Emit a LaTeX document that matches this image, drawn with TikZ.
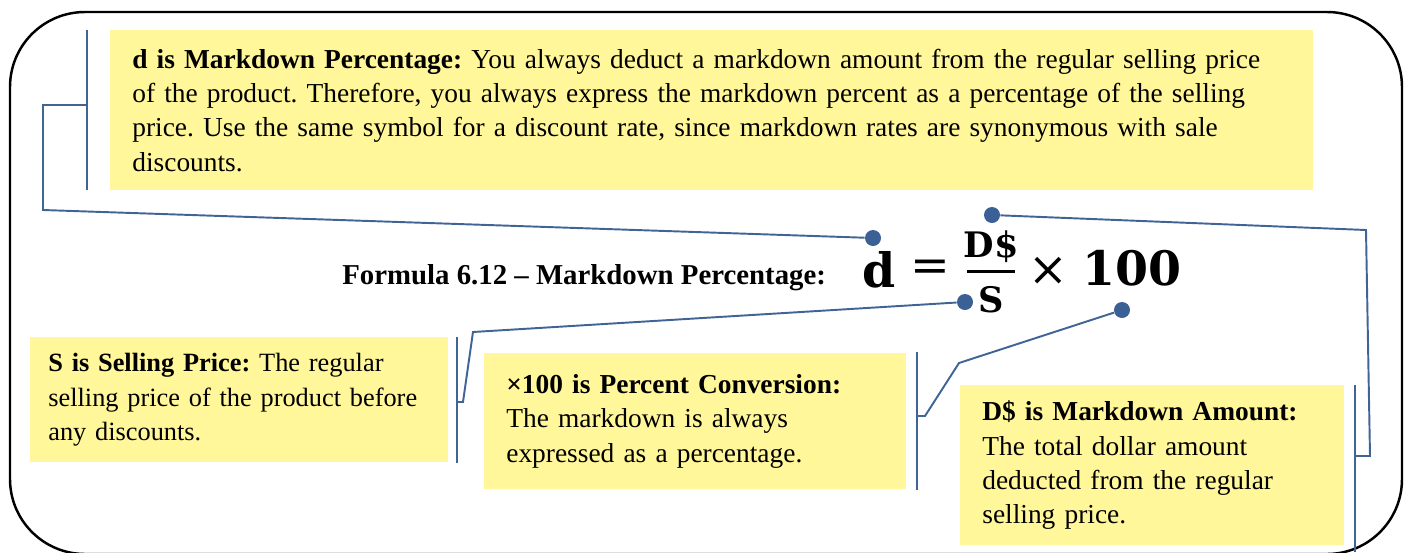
\documentclass[tikz,border=0pt]{standalone}
\usepackage{fontspec}
\setmainfont{Liberation Serif}
\newfontfamily\formfont{DejaVu Serif}
\usepackage{tikz}
\usetikzlibrary{positioning}
\definecolor{notefill}{HTML}{FFF799}
\definecolor{linkblue}{HTML}{406496}
\definecolor{dotblue}{HTML}{3A6095}
\frenchspacing
\tikzset{
  frame/.style={draw=black,line width=1.4pt,rounded corners=1.5cm},
  note/.style={fill=notefill,anchor=north west,align=left,inner xsep=0.44cm,inner ysep=0pt,
    font=\fontsize{15.6}{19.5}\selectfont},
  link/.style={linkblue,line width=1.1pt},
  dot/.style={circle,fill=dotblue,inner sep=0pt,minimum size=0.32cm},
  formpart/.style={inner sep=0pt,font=\formfont\bfseries\fontsize{27}{30}\selectfont},
  formsign/.style={inner sep=0pt,font=\formfont\fontsize{27}{30}\selectfont},
  fracpart/.style={inner sep=0pt,anchor=base,font=\formfont\bfseries\fontsize{20}{22}\selectfont}
}
\begin{document}
\begin{tikzpicture}[x=0.02cm,y=-0.02cm]
  \useasboundingbox (0,0) rectangle (1411,552);
  \clip (0,0) rectangle (1411,552);
  % outer frame
  \draw[frame] (10,12) rectangle (1402,554);
  % notes
  \node[note,text width=23.18cm,minimum height=3.2cm] (dnote) at (110,30)
    {\textbf{d is Markdown Percentage:} You always deduct a markdown amount from the regular selling price\\
     of the product. Therefore, you always express the markdown percent as a percentage of the selling\\
     price. Use the same symbol for a discount rate, since markdown rates are synonymous with sale\\
     discounts.};
  \node[note,inner xsep=0.36cm,text width=7.64cm,minimum height=2.5cm,
        font=\fontsize{15}{19.5}\selectfont] (snote) at (30,337)
    {\textbf{S is Selling Price:} The regular\\ selling price of the product before\\ any discounts.};
  \node[note,text width=7.56cm,minimum height=2.72cm] (hnote) at (484,353)
    {\textbf{×100 is Percent Conversion:}\\ The markdown is always\\ expressed as a percentage.};
  \node[note,text width=6.80cm,minimum height=3.2cm] (Dnote) at (960,385)
    {\textbf{D\$ is Markdown Amount:}\\ The total dollar amount\\ deducted from the regular\\ selling price.};
  % formula
  \node[anchor=base west,inner sep=0pt,font=\bfseries\fontsize{16.4}{18}\selectfont] (ftitle) at (342,284)
    {Formula 6.12 – Markdown Percentage:};
  \node[formpart,anchor=base west] (fd) at (862,287) {d};
  \node[formsign] (feq) at (930,271) {=};
  \node[fracpart] (fnum) at (991,257) {D\$};
  \node[fracpart] (fden) at (991,312) {S};
  \draw[line width=1.7pt] (967,271) -- (1015,271);
  \node[formsign] (ftimes) at (1048,271.5) {×};
  \node[formpart,anchor=base west] (fhund) at (1082,285) {100};
  % dots
  \node[dot] (ddot) at (873,238) {};
  \node[dot] (Ddot) at (992,215) {};
  \node[dot] (sdot) at (965,302) {};
  \node[dot] (hdot) at (1122,310) {};
  % d connector
  \coordinate (dtop) at (87,30);
  \coordinate (dbot) at (87,190);
  \coordinate (dmid) at (87,105);
  \draw[link] (dtop) -- (dbot);
  \draw[link] (dmid) -- (43,105) -- (43,210) -- (ddot);
  % D$ connector
  \coordinate (Dtop) at (1355,385);
  \coordinate (Dbot) at (1355,552);
  \coordinate (Dmid) at (1355,456);
  \draw[link] (Dtop) -- (Dbot);
  \draw[link] (Dmid) -- (1370,456) -- (1366,230) -- (Ddot);
  % S connector
  \coordinate (stop) at (457,337);
  \coordinate (sbot) at (457,463);
  \coordinate (smid) at (457,402);
  \draw[link] (stop) -- (sbot);
  \draw[link] (smid) -- (463,402) -- (473,332) -- (sdot);
  % x100 connector
  \coordinate (htop) at (917,352);
  \coordinate (hbot) at (917,490);
  \coordinate (hmid) at (917,416);
  \draw[link] (htop) -- (hbot);
  \draw[link] (hmid) -- (925,416) -- (959,363) -- (hdot);
\end{tikzpicture}
\end{document}
